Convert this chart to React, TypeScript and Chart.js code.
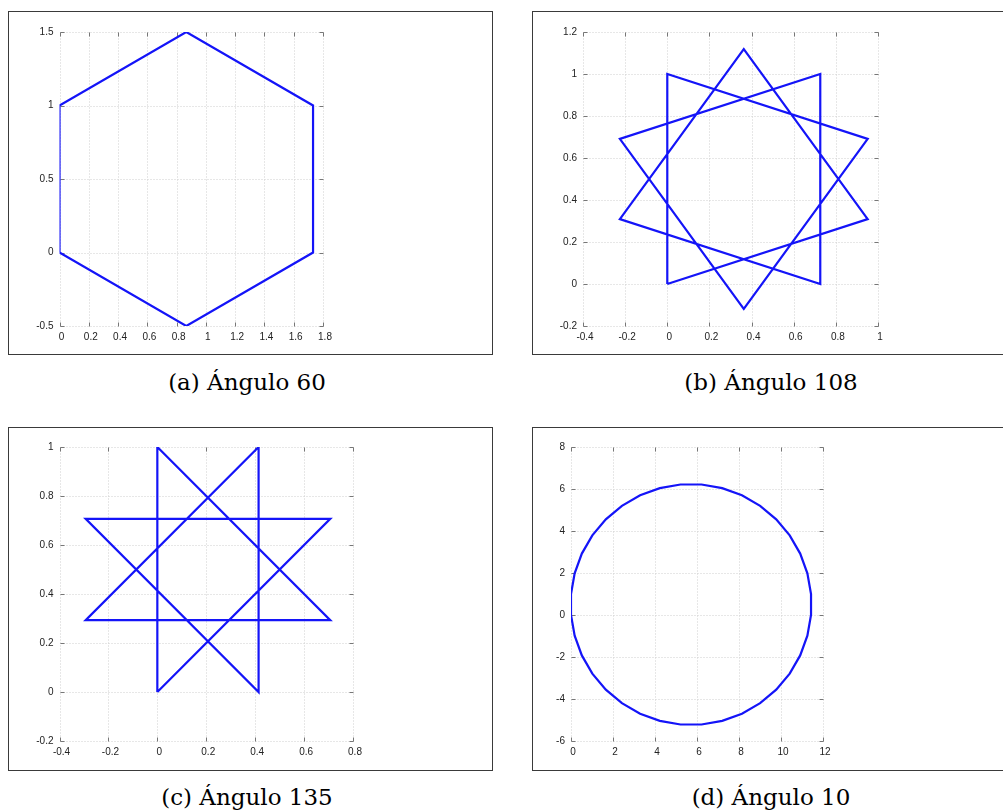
import React, { useEffect, useRef } from 'react';
import { Chart, registerables } from 'chart.js';

Chart.register(...registerables);

// ---------- data ----------
const hexagonX = [0, 0.866, 1.732, 1.732, 0.866, 0, 0];
const hexagonY = [0, -0.5, 0, 1, 1.5, 1, 0];

const star108X = [0, 0, 0.951, 0.363, -0.225, 0.726, 0.726, -0.225, 0.363, 0.951, 0];
const star108Y = [0, 1, 0.691, -0.118, 0.691, 1, 0, 0.309, 1.118, 0.309, 0];

const star135X = [0, 0, 0.707, -0.293, 0.414, 0.414, -0.293, 0.707, 0];
const star135Y = [0, 1, 0.293, 0.293, 1, 0, 0.707, 0.707, 0];

const circle10X = [
  0, 0, 0.174, 0.516, 1.016, 1.658, 2.425, 3.291, 4.230, 5.215, 6.215, 7.200,
  8.140, 9.006, 9.772, 10.414, 10.914, 11.256, 11.430, 11.430, 11.256, 10.914,
  10.414, 9.772, 9.006, 8.140, 7.200, 6.215, 5.215, 4.230, 3.291, 2.425, 1.658,
  1.016, 0.516, 0.174, 0,
];
const circle10Y = [
  0, 1, 1.985, 2.925, 3.791, 4.557, 5.199, 5.699, 6.041, 6.215, 6.215, 6.041,
  5.699, 5.199, 4.557, 3.791, 2.925, 1.985, 1, 0, -0.985, -1.925, -2.791,
  -3.557, -4.199, -4.699, -5.041, -5.215, -5.215, -5.041, -4.699, -4.199,
  -3.557, -2.791, -1.925, -0.985, 0,
];

// axis ranges: [min, max, step]
const xRangeA = [0, 1.8, 0.2];
const yRangeA = [-0.5, 1.5, 0.5];
const xRangeB = [-0.4, 1, 0.2];
const yRangeB = [-0.2, 1.2, 0.2];
const xRangeC = [-0.4, 0.8, 0.2];
const yRangeC = [-0.2, 1, 0.2];
const xRangeD = [0, 12, 2];
const yRangeD = [-6, 8, 2];

const captions = ['(a) Ángulo 60', '(b) Ángulo 108', '(c) Ángulo 135', '(d) Ángulo 10'];

// ---------- layout ----------
const Y_AXIS_W = 30;
const X_AXIS_H = 24;

type Rect = { left: number; top: number; right: number; bottom: number };

const gridPlugin = {
  id: 'octaveGrid',
  beforeDatasetsDraw(chart: any) {
    const { ctx, chartArea: a, scales } = chart;
    const x = scales.x;
    const y = scales.y;
    const xs = x.ticks.map((t: any) => Math.round(x.getPixelForValue(t.value)) + 0.5);
    const ys = y.ticks.map((t: any) => Math.round(y.getPixelForValue(t.value)) + 0.5);
    const L = Math.round(a.left) + 0.5;
    const R = Math.round(a.right) + 0.5;
    const T = Math.round(a.top) + 0.5;
    const B = Math.round(a.bottom) + 0.5;
    ctx.save();
    ctx.lineWidth = 1;
    ctx.strokeStyle = '#cfcfcf';
    ctx.setLineDash([1, 2]);
    ctx.beginPath();
    xs.forEach((px: number) => {
      ctx.moveTo(px, T);
      ctx.lineTo(px, B);
    });
    ys.forEach((py: number) => {
      ctx.moveTo(L, py);
      ctx.lineTo(R, py);
    });
    ctx.stroke();
    ctx.setLineDash([]);
    ctx.strokeStyle = '#777';
    ctx.beginPath();
    const tl = 4;
    xs.forEach((px: number) => {
      ctx.moveTo(px, B);
      ctx.lineTo(px, B - tl);
      ctx.moveTo(px, T);
      ctx.lineTo(px, T + tl);
    });
    ys.forEach((py: number) => {
      ctx.moveTo(L, py);
      ctx.lineTo(L + tl, py);
      ctx.moveTo(R, py);
      ctx.lineTo(R - tl, py);
    });
    ctx.stroke();
    ctx.restore();
  },
};

function fmt(v: number) {
  return String(Math.round(v * 1000) / 1000);
}

function Panel(props: {
  box: Rect;
  plot: Rect;
  xs: number[];
  ys: number[];
  xRange: number[];
  yRange: number[];
  caption: string;
  captionX: number;
  captionBaseline: number;
}) {
  const ref = useRef<HTMLCanvasElement | null>(null);
  const { box, plot, xs, ys, xRange, yRange, caption, captionX, captionBaseline } = props;
  const w = box.right - box.left;
  const h = box.bottom - box.top;

  useEffect(() => {
    if (!ref.current) return;
    const pts = xs.map((xv, i) => ({ x: xv, y: ys[i] }));
    const tickFont = { family: '"Liberation Sans", Arial, sans-serif', size: 10 };
    const chart = new Chart(ref.current, {
      type: 'scatter',
      data: {
        datasets: [
          {
            data: pts,
            showLine: true,
            borderColor: '#1414f8',
            backgroundColor: '#1414f8',
            borderWidth: 2.2,
            pointRadius: 0,
            tension: 0,
            fill: false,
          },
        ],
      },
      plugins: [gridPlugin],
      options: {
        responsive: false,
        animation: false,
        events: [],
        layout: {
          padding: {
            left: plot.left - box.left - Y_AXIS_W,
            top: plot.top - box.top,
            right: box.right - plot.right,
            bottom: box.bottom - plot.bottom - X_AXIS_H,
          },
        },
        plugins: { legend: { display: false }, tooltip: { enabled: false }, title: { display: false } },
        scales: {
          x: {
            type: 'linear',
            min: xRange[0],
            max: xRange[1],
            grid: { display: false, drawTicks: false },
            border: { display: false },
            ticks: {
              stepSize: xRange[2],
              color: '#222',
              font: tickFont,
              padding: 5,
              labelOffset: 2,
              maxRotation: 0,
              autoSkip: false,
              callback: (v: any) => fmt(Number(v)),
            },
            afterFit: (s: any) => {
              s.height = X_AXIS_H;
            },
          },
          y: {
            type: 'linear',
            min: yRange[0],
            max: yRange[1],
            grid: { display: false, drawTicks: false },
            border: { display: false },
            ticks: {
              stepSize: yRange[2],
              color: '#222',
              font: tickFont,
              padding: 6,
              autoSkip: false,
              callback: (v: any) => fmt(Number(v)),
            },
            afterFit: (s: any) => {
              s.width = Y_AXIS_W;
            },
          },
        },
      },
    } as any);
    return () => chart.destroy();
  }, []);

  const fontSize = 23;
  return (
    <>
      <div
        style={{
          position: 'absolute',
          left: box.left,
          top: box.top,
          width: w,
          height: h,
          border: '1px solid #3a3a3a',
          boxSizing: 'border-box',
        }}
      />
      <canvas
        ref={ref}
        width={w}
        height={h}
        style={{ position: 'absolute', left: box.left, top: box.top, width: w, height: h }}
      />
      <div
        style={{
          position: 'absolute',
          left: captionX - 150,
          width: 300,
          top: captionBaseline - 19.5,
          textAlign: 'center',
          fontFamily: '"DejaVu Serif", serif',
          fontSize,
          lineHeight: `${fontSize}px`,
          color: '#000',
          whiteSpace: 'nowrap',
        }}
      >
        {caption}
      </div>
    </>
  );
}

export default function App() {
  useEffect(() => {
    document.body.style.overflow = 'hidden';
    document.documentElement.style.overflow = 'hidden';
  }, []);
  return (
    <div
      style={{
        position: 'absolute',
        left: 0,
        top: 0,
        width: 1003,
        height: 812,
        overflow: 'hidden',
        background: '#fff',
      }}
    >
      <Panel
        box={{ left: 8, top: 11, right: 493, bottom: 355 }}
        plot={{ left: 59.5, top: 32, right: 323, bottom: 326 }}
        xs={hexagonX}
        ys={hexagonY}
        xRange={xRangeA}
        yRange={yRangeA}
        caption={captions[0]}
        captionX={247}
        captionBaseline={390}
      />
      <Panel
        box={{ left: 532, top: 11, right: 1018, bottom: 355 }}
        plot={{ left: 583, top: 32, right: 878, bottom: 326 }}
        xs={star108X}
        ys={star108Y}
        xRange={xRangeB}
        yRange={yRangeB}
        caption={captions[1]}
        captionX={771}
        captionBaseline={390}
      />
      <Panel
        box={{ left: 8, top: 427, right: 493, bottom: 771 }}
        plot={{ left: 59.5, top: 447, right: 353, bottom: 741 }}
        xs={star135X}
        ys={star135Y}
        xRange={xRangeC}
        yRange={yRangeC}
        caption={captions[2]}
        captionX={247}
        captionBaseline={805}
      />
      <Panel
        box={{ left: 532, top: 427, right: 1018, bottom: 771 }}
        plot={{ left: 571, top: 447, right: 823, bottom: 741 }}
        xs={circle10X}
        ys={circle10Y}
        xRange={xRangeD}
        yRange={yRangeD}
        caption={captions[3]}
        captionX={771}
        captionBaseline={805}
      />
    </div>
  );
}
